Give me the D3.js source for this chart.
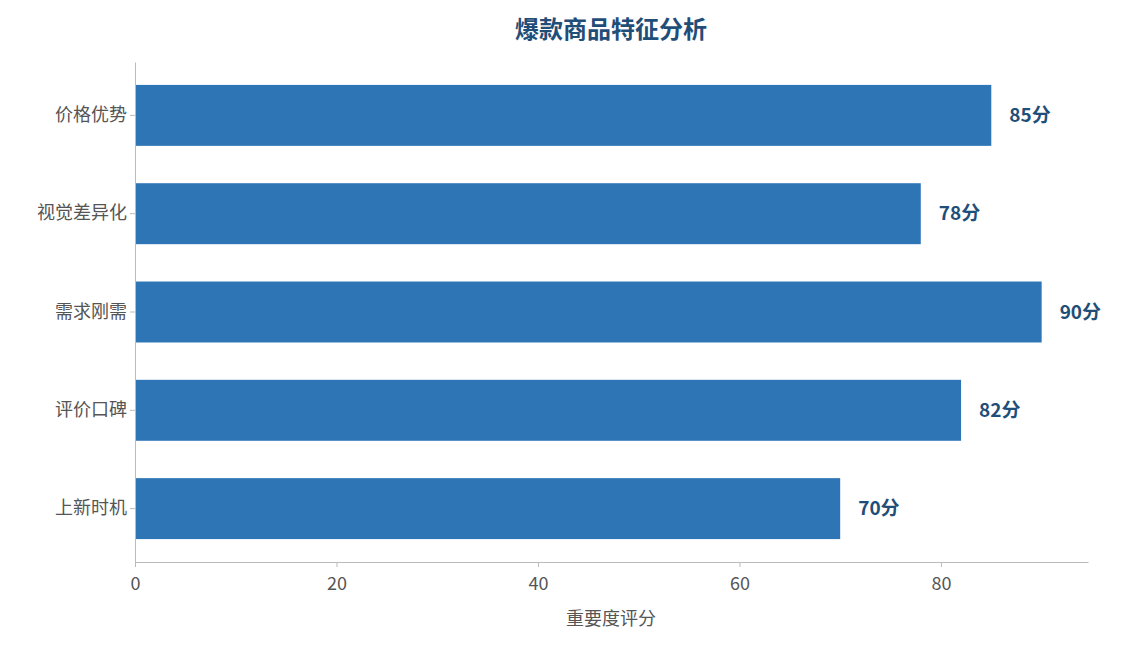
<!DOCTYPE html>
<html><head><meta charset="utf-8">
<script src="https://cdn.jsdelivr.net/npm/d3@7"></script>
<style>body{margin:0;background:#fff;font-family:"Noto Sans CJK SC","Noto Sans",sans-serif;}</style>
</head><body><svg id="c" width="1122" height="645"></svg>
<script>
var categories = ['价格优势', '视觉差异化', '需求刚需', '评价口碑', '上新时机'];
var scores = [85, 78, 90, 82, 70];
var xTicks = [0, 20, 40, 60, 80];

var svg = d3.select('#c');
var m = {left: 135, right: 1088, top: 62, bottom: 562};

var x = d3.scaleLinear().domain([0, 94.6]).range([m.left, m.right]);
var y = d3.scaleBand().domain(categories).range([m.top, m.bottom])
  .paddingInner(0.38).paddingOuter(0.233);

svg.append('text').attr('x', 611).attr('y', 38).attr('text-anchor', 'middle')
  .attr('font-size', 24).attr('font-weight', 'bold').attr('fill', '#1f4e79')
  .text('爆款商品特征分析');

svg.selectAll('rect.bar').data(scores).enter().append('rect')
  .attr('x', x(0)).attr('y', function(d, i) { return y(categories[i]); })
  .attr('width', function(d) { return x(d) - x(0); })
  .attr('height', y.bandwidth()).attr('fill', '#2e75b6');

svg.selectAll('text.val').data(scores).enter().append('text')
  .attr('x', function(d) { return x(d) + 18; })
  .attr('y', function(d, i) { return y(categories[i]) + y.bandwidth() / 2; })
  .attr('dy', '0.35em').attr('font-size', 19).attr('font-weight', 'bold')
  .attr('fill', '#1f4e79').text(function(d) { return d + '分'; });

var xa = svg.append('g').attr('transform', 'translate(0,' + m.bottom + ')')
  .call(d3.axisBottom(x).tickValues(xTicks).tickSize(5).tickSizeOuter(0));
var ya = svg.append('g').attr('transform', 'translate(' + m.left + ',0)')
  .call(d3.axisLeft(y).tickSize(5).tickSizeOuter(0));
[xa, ya].forEach(function(a) {
  a.select('.domain').attr('stroke', '#bbb');
  a.selectAll('.tick line').attr('stroke', '#bbb');
  a.selectAll('.tick text').attr('fill', '#555').attr('font-size', 18)
    .attr('font-family', '"Noto Sans CJK SC","Noto Sans",sans-serif');
});
xa.selectAll('.tick text').attr('dy', '1.1em');

svg.append('text').attr('x', 611).attr('y', 625).attr('text-anchor', 'middle')
  .attr('font-size', 18).attr('fill', '#555').text('重要度评分');
</script></body></html>
